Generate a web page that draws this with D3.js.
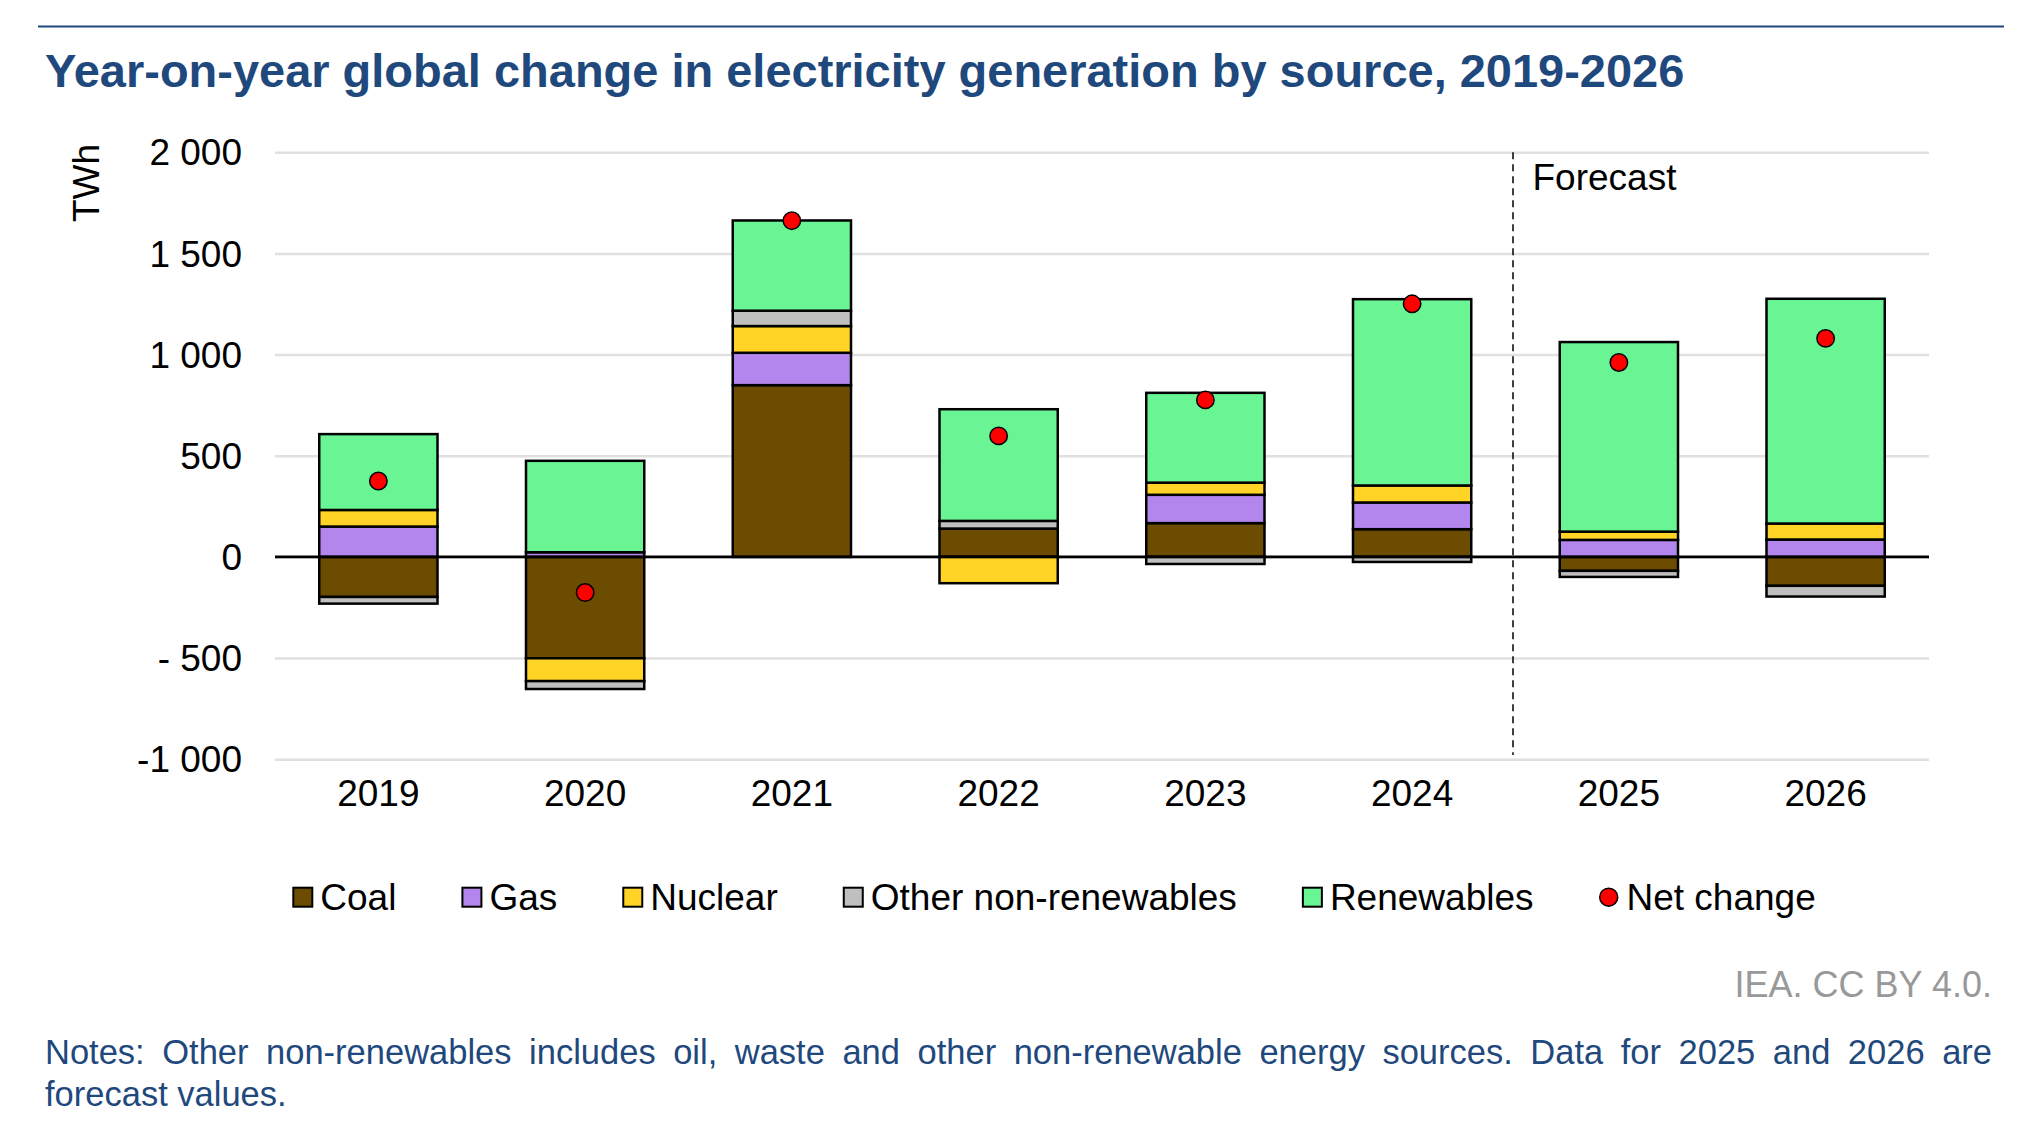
<!DOCTYPE html>
<html lang="en">
<head>
    <meta charset="UTF-8">
    <title>generation-change-by-source</title>
    <script type="application/javascript" src="https://cdn.jsdelivr.net/npm/d3@7/dist/d3.min.js"></script>
    <style>
        body { margin: 0; background: #fff; }
        text { font-family: "Liberation Sans", Arial, sans-serif; }
    </style>
</head>
<body>
    <svg class="chart"></svg>
</body>
<script type="application/javascript">
    // data, TWh change year on year
    var years = ['2019', '2020', '2021', '2022', '2023', '2024', '2025', '2026'];
    var coal = [-198, -501, 849, 140, 167, 137, -69, -143];
    var gas = [150, 23, 160, 0, 140, 132, 84, 86];
    var nuclear = [82, -113, 132, -130, 60, 84, 41, 79];
    var other = [-33, -39, 76, 38, -35, -25, -30, -53];
    var renewables = [375, 452, 446, 552, 444, 921, 937, 1111];
    var net = [375, -176, 1662, 598, 776, 1251, 961, 1080];

    var sources = ['Coal', 'Gas', 'Nuclear', 'Other non-renewables', 'Renewables'];
    var colors = ['#6b4c00', '#b286ec', '#ffd426', '#bfbfbf', '#69f594'];

    var yTicks = [-1000, -500, 0, 500, 1000, 1500, 2000];
    var yTickLabels = ['-1 000', '- 500', '0', '500', '1 000', '1 500', '2 000'];

    var title = 'Year-on-year global change in electricity generation by source, 2019-2026';
    var notes = ['Notes: Other non-renewables includes oil, waste and other non-renewable energy sources. Data for 2025 and 2026 are',
        'forecast values.'];

    // sizes
    var width = 2028, height = 1132;
    var plotLeft = 275, plotRight = 1929, plotTop = 152.3, plotBottom = 759.2;
    var blue = '#1f497d';
    var fs = 37;

    var svg = d3.select('.chart')
        .attr('width', width)
        .attr('height', height);

    var x = d3.scaleBand()
        .domain(years)
        .range([plotLeft, plotRight])
        .paddingInner(0.428)
        .paddingOuter(0.214);

    var y = d3.scaleLinear()
        .domain([-1000, 2000])
        .range([plotBottom, plotTop]);

    // top rule + title
    svg.append('line')
        .attr('x1', 38).attr('x2', 2004)
        .attr('y1', 26.5).attr('y2', 26.5)
        .attr('stroke', blue)
        .attr('stroke-width', 2);

    var t = svg.append('text')
        .attr('x', 45)
        .attr('y', 86.7)
        .attr('fill', blue)
        .attr('font-weight', 'bold')
        .attr('font-size', 42)
        .text(title);
    t.attr('font-size', 42 * 1640 / t.node().getComputedTextLength());

    // y axis with gridlines
    var yAxis = svg.append('g')
        .attr('transform', 'translate(' + plotLeft + ',0)')
        .call(d3.axisLeft(y)
            .tickValues(yTicks)
            .tickSize(-(plotRight - plotLeft))
            .tickPadding(33)
            .tickFormat(function (d, i) { return yTickLabels[i]; }));
    yAxis.select('.domain').remove();
    yAxis.selectAll('line')
        .attr('stroke', '#e0e0e0')
        .attr('stroke-width', 2.5);
    yAxis.selectAll('text')
        .attr('font-size', fs)
        .attr('font-family', '"Liberation Sans", Arial, sans-serif')
        .attr('fill', '#000')
        .attr('dy', '0.34em');

    svg.append('text')
        .attr('transform', 'translate(99,183) rotate(-90)')
        .attr('text-anchor', 'middle')
        .attr('font-size', fs)
        .text('TWh');

    // x axis labels
    var xAxis = svg.append('g')
        .attr('transform', 'translate(0,' + plotBottom + ')')
        .call(d3.axisBottom(x).tickSize(0).tickPadding(20.5));
    xAxis.select('.domain').remove();
    xAxis.selectAll('text')
        .attr('font-size', fs)
        .attr('font-family', '"Liberation Sans", Arial, sans-serif')
        .attr('fill', '#000');

    // forecast divider
    var fx = x('2025') - x.step() * x.paddingInner() / 2 - 2.5;
    svg.append('line')
        .attr('x1', fx).attr('x2', fx)
        .attr('y1', plotTop).attr('y2', 755)
        .attr('stroke', '#000')
        .attr('stroke-width', 1.5)
        .attr('stroke-dasharray', '7,5');
    svg.append('text')
        .attr('x', fx + 19.5)
        .attr('y', 190)
        .attr('font-size', fs)
        .text('Forecast');

    // stacked bars
    var values = [coal, gas, nuclear, other, renewables];
    var rows = years.map(function (yr, i) {
        var r = { year: yr };
        sources.forEach(function (s, k) { r[s] = values[k][i]; });
        return r;
    });
    var series = d3.stack()
        .keys(sources)
        .offset(d3.stackOffsetDiverging)(rows);

    svg.append('g')
        .selectAll('g')
        .data(series)
        .enter()
        .append('g')
        .attr('fill', function (d, i) { return colors[i]; })
        .selectAll('rect')
        .data(function (d) { return d.filter(function (p) { return p[1] !== p[0]; }); })
        .enter()
        .append('rect')
        .attr('x', function (d) { return x(d.data.year); })
        .attr('y', function (d) { return y(d[1]); })
        .attr('width', x.bandwidth())
        .attr('height', function (d) { return y(d[0]) - y(d[1]); })
        .attr('stroke', '#000')
        .attr('stroke-width', 2.5);

    // zero line
    svg.append('line')
        .attr('x1', plotLeft).attr('x2', plotRight)
        .attr('y1', y(0)).attr('y2', y(0))
        .attr('stroke', '#000')
        .attr('stroke-width', 2.8);

    // net change dots
    svg.append('g')
        .selectAll('circle')
        .data(net)
        .enter()
        .append('circle')
        .attr('cx', function (d, i) { return x(years[i]) + x.bandwidth() / 2; })
        .attr('cy', function (d) { return y(d); })
        .attr('r', 8.7)
        .attr('fill', '#ff0000')
        .attr('stroke', '#000')
        .attr('stroke-width', 1.5);

    // legend
    var legendItems = sources.concat(['Net change']);
    var lx = 293.3, ly = 897.2;
    legendItems.forEach(function (label, i) {
        if (i < sources.length) {
            svg.append('rect')
                .attr('x', lx).attr('y', ly - 9.5)
                .attr('width', 19).attr('height', 19)
                .attr('fill', colors[i])
                .attr('stroke', '#000')
                .attr('stroke-width', 2);
        } else {
            svg.append('circle')
                .attr('cx', lx + 9.2).attr('cy', ly)
                .attr('r', 9)
                .attr('fill', '#ff0000')
                .attr('stroke', '#000')
                .attr('stroke-width', 1.5);
        }
        var lt = svg.append('text')
            .attr('x', lx + 27)
            .attr('y', ly)
            .attr('dy', '0.35em')
            .attr('font-size', fs)
            .text(label);
        lx = lx + 27 + lt.node().getComputedTextLength() + 66;
    });

    // source
    svg.append('text')
        .attr('x', 1992)
        .attr('y', 996.7)
        .attr('text-anchor', 'end')
        .attr('font-size', 36)
        .attr('fill', '#999999')
        .text('IEA. CC BY 4.0.');

    // notes, first line justified
    var n1 = svg.append('text')
        .attr('x', 45)
        .attr('y', 1064)
        .attr('font-size', 34.5)
        .attr('fill', blue)
        .text(notes[0]);
    var gaps = notes[0].split(' ').length - 1;
    n1.attr('word-spacing', (1947 - n1.node().getComputedTextLength()) / gaps);

    svg.append('text')
        .attr('x', 45)
        .attr('y', 1105.7)
        .attr('font-size', 34.5)
        .attr('fill', blue)
        .text(notes[1]);
</script>
</html>
